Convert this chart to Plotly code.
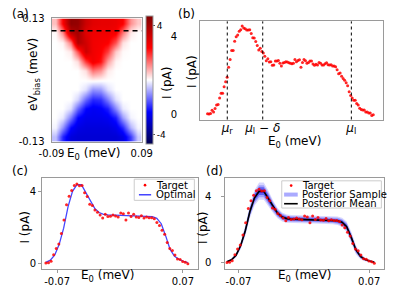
import numpy as np
import plotly.graph_objects as go

# ---------------- data ----------------
# Panel (a): current map I(E0, eV_bias), coarse readings (cell centres)
hm_E0 = [-0.0825, -0.0675, -0.0525, -0.0375, -0.0225, -0.0075,
         0.0075, 0.0225, 0.0375, 0.0525, 0.0675, 0.0825]
hm_V = [0.12, 0.10, 0.08, 0.06, 0.04, 0.02, 0.0, -0.02, -0.04, -0.06, -0.08, -0.10, -0.12]
hm_I = [
    [0.6, 2.4, 4.4, 4.3, 3.3, 2.9, 2.8, 2.8, 2.7, 2.4, 1.0, 0.5],
    [0.05, 1.1, 3.6, 4.0, 2.9, 2.65, 2.6, 2.6, 2.5, 1.3, 0.2, 0.0],
    [0.0, 0.1, 1.2, 3.8, 3.2, 2.6, 2.5, 2.4, 1.6, 0.3, 0.0, 0.0],
    [0.0, 0.0, 0.2, 1.6, 3.3, 2.6, 2.4, 1.8, 0.5, 0.05, 0.0, 0.0],
    [0.0, 0.0, 0.0, 0.3, 1.8, 2.6, 2.2, 0.9, 0.1, 0.0, 0.0, 0.0],
    [0.0, 0.0, 0.0, 0.0, 0.3, 1.3, 1.0, 0.2, 0.0, 0.0, 0.0, 0.0],
    [0.0, 0.0, 0.0, 0.0, 0.0, 0.05, 0.0, 0.0, 0.0, 0.0, 0.0, 0.0],
    [0.0, 0.0, 0.0, 0.0, -0.3, -1.0, -0.9, -0.3, 0.0, 0.0, 0.0, 0.0],
    [0.0, 0.0, 0.0, -0.4, -1.4, -2.0, -1.9, -1.2, -0.3, 0.0, 0.0, 0.0],
    [0.0, 0.0, -0.3, -1.4, -2.3, -2.5, -2.4, -2.1, -1.1, -0.2, 0.0, 0.0],
    [0.0, -0.2, -1.2, -2.3, -2.6, -2.6, -2.6, -2.5, -2.1, -0.9, -0.1, 0.0],
    [-0.1, -1.0, -2.3, -2.7, -2.8, -2.8, -2.8, -2.8, -2.6, -2.0, -0.7, -0.1],
    [-0.6, -2.0, -2.8, -2.9, -2.9, -2.9, -2.9, -2.9, -2.9, -2.7, -1.8, -0.5],
]
V_cut = 0.104

# Panels (b)-(d): target current along the cut
E0_target = np.linspace(-0.0825, 0.0755, 111)
I_target = [
    0.01, 0.00, 0.03, 0.20, 0.11, 0.28, 0.47, 0.49, 0.82, 1.07, 1.07, 1.40, 1.66, 1.89,
    2.40, 2.80, 3.26, 3.26, 3.73, 3.97, 4.05, 4.25, 4.33, 4.52, 4.41, 4.38, 4.31, 4.31,
    4.33, 4.13, 3.92, 3.90, 3.72, 3.52, 3.29, 3.37, 3.21, 3.13, 2.96, 2.73, 2.84, 2.67,
    2.68, 2.50, 2.52, 2.72, 2.72, 2.75, 2.60, 2.47, 2.62, 2.65, 2.68, 2.67, 2.63, 2.60,
    2.58, 2.60, 2.80, 2.68, 2.75, 2.78, 2.40, 2.65, 2.80, 2.73, 2.60, 2.65, 2.72, 2.72,
    2.57, 2.50, 2.55, 2.52, 2.65, 2.60, 2.52, 2.52, 2.58, 2.63, 2.53, 2.52, 2.53, 2.47,
    2.47, 2.43, 2.27, 2.07, 2.10, 1.94, 1.83, 1.73, 1.61, 1.45, 1.15, 0.95, 0.82, 0.71,
    0.71, 0.54, 0.46, 0.30, 0.23, 0.21, 0.21, 0.10, 0.10, 0.06, 0.05, -0.07, -0.03,
]
mu_vals = [-0.0637, -0.0299, 0.0546]
mu_labels = ["<i>μ</i><sub>r</sub>", "<i>μ</i><sub>l</sub> − <i>δ</i>", "<i>μ</i><sub>l</sub>"]

# smooth curves (fit / posterior)
E0_curve = np.linspace(-0.0825, 0.0755, 33)
I_optimal = [0.05, 0.17, 0.46, 1.05, 1.95, 3.15, 4.00, 4.38, 4.37, 3.93, 3.44, 3.05, 2.82,
             2.72, 2.69, 2.68, 2.68, 2.68, 2.67, 2.67, 2.66, 2.66, 2.65, 2.63, 2.59, 2.50,
             2.20, 1.52, 0.77, 0.38, 0.22, 0.11, 0.03]
I_post_mean = [0.05, 0.17, 0.45, 1.03, 1.92, 3.08, 3.90, 4.30, 4.30, 3.88, 3.38, 2.98, 2.75,
               2.65, 2.62, 2.61, 2.61, 2.61, 2.60, 2.60, 2.60, 2.59, 2.58, 2.56, 2.52, 2.43,
               2.16, 1.52, 0.78, 0.38, 0.19, 0.10, 0.03]
I_post_spread = [0.06, 0.08, 0.13, 0.22, 0.32, 0.40, 0.46, 0.52, 0.52, 0.46, 0.38, 0.31, 0.27,
                 0.25, 0.25, 0.25, 0.25, 0.25, 0.25, 0.25, 0.25, 0.25, 0.25, 0.25, 0.25, 0.27,
                 0.32, 0.34, 0.27, 0.17, 0.10, 0.07, 0.06]

# ---------------- layout helpers ----------------
W, H = 398, 292
FONT = "DejaVu Sans"
GRAY = "#9a9a9a"


def fx(p):
    return p / W


def fy(p):
    return 1 - p / H


seismic = [[0.0, "rgb(0,0,77)"], [0.25, "rgb(0,0,255)"], [0.5, "rgb(255,255,255)"],
           [0.75, "rgb(255,0,0)"], [1.0, "rgb(128,0,0)"]]

fig = go.Figure()

# (a) heatmap
fig.add_trace(go.Heatmap(
    x=hm_E0, y=hm_V, z=hm_I, zsmooth="best", colorscale=seismic, zmin=-4.7, zmax=4.7,
    xaxis="x", yaxis="y",
    colorbar=dict(x=fx(142), xanchor="left", xpad=0, ypad=0, thickness=7,
                  lenmode="pixels", len=128, y=fy(78), yanchor="middle",
                  outlinecolor=GRAY, outlinewidth=1,
                  tickvals=[-4, 4], ticktext=["-4", "4"], ticks="outside", ticklen=2,
                  tickcolor="#555", tickfont=dict(size=9, family=FONT, color="black")),
))

# (b) target scatter
fig.add_trace(go.Scatter(x=E0_target, y=I_target, mode="markers", xaxis="x2", yaxis="y2",
                         marker=dict(size=3, color="rgba(255,0,0,0.85)"), showlegend=False))

# (c) target + optimal
fig.add_trace(go.Scatter(x=E0_curve, y=I_optimal, mode="lines", xaxis="x3", yaxis="y3",
                         line=dict(color="rgb(70,70,255)", width=1.3), showlegend=False))
fig.add_trace(go.Scatter(x=E0_target[::2], y=I_target[::2], mode="markers", xaxis="x3", yaxis="y3",
                         marker=dict(size=3, color="rgba(255,0,0,0.85)"), showlegend=False))

# (d) posterior band, mean, target
mean = np.array(I_post_mean)
spread = np.array(I_post_spread)
for k, col in [(1.0, "rgba(120,120,255,0.30)"), (0.7, "rgba(80,80,245,0.40)"),
               (0.45, "rgba(40,40,235,0.55)"), (0.2, "rgba(20,20,220,0.6)")]:
    up = mean + k * spread
    lo = mean - k * spread
    fig.add_trace(go.Scatter(x=np.concatenate([E0_curve, E0_curve[::-1]]),
                             y=np.concatenate([up, lo[::-1]]), fill="toself",
                             fillcolor=col, line=dict(width=0), mode="lines",
                             xaxis="x4", yaxis="y4", showlegend=False, hoverinfo="skip"))
fig.add_trace(go.Scatter(x=E0_curve, y=I_post_mean, mode="lines", xaxis="x4", yaxis="y4",
                         line=dict(color="black", width=1.6), showlegend=False))
fig.add_trace(go.Scatter(x=E0_target[::2], y=I_target[::2], mode="markers", xaxis="x4", yaxis="y4",
                         marker=dict(size=3, color="rgba(255,0,0,0.85)"), showlegend=False))

axbase = dict(showline=True, mirror=True, linecolor=GRAY, linewidth=1, showgrid=False,
              zeroline=False, tickfont=dict(size=10, family=FONT, color="black"))

layout = dict(
    width=W, height=H, margin=dict(l=0, r=0, t=0, b=0),
    paper_bgcolor="white", plot_bgcolor="white", showlegend=False,
    font=dict(family=FONT, color="black"),
    xaxis=dict(axbase, domain=[fx(41), fx(137)], anchor="y", range=[-0.09, 0.09],
               tickvals=[-0.09, 0.09], ticktext=["-0.09", "0.09"], ticks="", ticklabelstandoff=2),
    yaxis=dict(axbase, domain=[fy(142), fy(14)], anchor="x", range=[-0.13, 0.13],
               tickvals=[-0.13, 0.13], ticktext=["-0.13", "0.13"], ticks="", ticklabelstandoff=4),
    xaxis2=dict(axbase, domain=[fx(199), fx(394)], anchor="y2", range=[-0.0897, 0.0850],
                tickvals=mu_vals, ticktext=mu_labels, ticks="", ticklabelstandoff=-3,
                tickfont=dict(size=12, family=FONT, color="black")),
    yaxis2=dict(axbase, domain=[fy(119), fy(17)], anchor="x2", range=[-0.28, 4.755],
                tickvals=[0, 4], ticktext=["0", "4"], ticks="", ticklabelstandoff=20),
    xaxis3=dict(axbase, domain=[fx(31), fx(196.5)], anchor="y3", range=[-0.0867, 0.0864],
                tickvals=[-0.07, 0.07], ticktext=["-0.07", "0.07"], ticks="outside",
                ticklen=3, tickcolor=GRAY),
    yaxis3=dict(axbase, domain=[fy(274.3), fy(179.3)], anchor="x3", range=[-0.32, 4.77],
                tickvals=[0, 4], ticktext=["0", "4"], ticks="outside", ticklen=3, tickcolor=GRAY),
    xaxis4=dict(axbase, domain=[fx(226), fx(394.7)], anchor="y4", range=[-0.0841, 0.0858],
                tickvals=[-0.07, 0.07], ticktext=["-0.07", "0.07"], ticks="outside",
                ticklen=3, tickcolor=GRAY),
    yaxis4=dict(axbase, domain=[fy(274.5), fy(179.3)], anchor="x4", range=[-0.39, 5.12],
                tickvals=[0, 4], ticktext=["0", "4"], ticks="outside", ticklen=3, tickcolor=GRAY,
                ticklabelstandoff=8),
)
fig.update_layout(**layout)

shapes = []
# dashed cut line on heatmap
shapes.append(dict(type="line", xref="x domain", yref="y", x0=0, x1=1, y0=V_cut, y1=V_cut,
                   line=dict(color="black", width=1.5, dash="5px,4px")))
# mu lines in (b)
for m in mu_vals:
    shapes.append(dict(type="line", xref="x2", yref="y2 domain", x0=m, x1=m, y0=0, y1=1,
                       line=dict(color="black", width=1, dash="dot")))

annotations = []


def txt(text, x, y, size=12, angle=0, xanchor="center"):
    annotations.append(dict(text=text, x=fx(x), y=fy(y), xref="paper", yref="paper",
                            showarrow=False, textangle=angle, xanchor=xanchor, yanchor="middle",
                            font=dict(size=size, family=FONT, color="black")))


# panel labels
txt("(a)", 8.5, 9, 12)
txt("(b)", 185, 9, 12)
txt("(c)", 7.5, 173, 12)
txt("(d)", 214, 173, 12)
# axis titles
txt("eV<sub>bias</sub> (meV)", 23, 72, 12, -90)
txt("E<sub>0</sub> (meV)", 86, 155, 12)
txt("I (pA)", 164, 81, 12, -90)          # colour-bar title
txt("I (pA)", 191, 69, 12, -90)
txt("E<sub>0</sub> (meV)", 300, 142, 12)
txt("I (pA)", 13, 231, 12, -90)
txt("E<sub>0</sub> (meV)", 101, 282, 12)
txt("I (pA)", 203, 231, 12, -90)
txt("E<sub>0</sub> (meV)", 310, 282, 12)


# manual legends
def legend_box(x0, x1, y0, y1):
    shapes.append(dict(type="rect", xref="paper", yref="paper", x0=fx(x0), x1=fx(x1),
                       y0=fy(y1), y1=fy(y0), fillcolor="rgba(255,255,255,0.85)",
                       line=dict(color="#cccccc", width=1)))


def legend_dot(cx, cy):
    shapes.append(dict(type="circle", xref="paper", yref="paper", x0=fx(cx - 1.4), x1=fx(cx + 1.4),
                       y0=fy(cy + 1.4), y1=fy(cy - 1.4), fillcolor="red", line=dict(width=0)))


def legend_line(xa, xb, y, color, width):
    shapes.append(dict(type="line", xref="paper", yref="paper", x0=fx(xa), x1=fx(xb),
                       y0=fy(y), y1=fy(y), line=dict(color=color, width=width)))


legend_box(129, 193, 181, 203)
legend_dot(140.5, 187.2)
legend_line(134, 147, 197.2, "rgb(70,70,255)", 1.5)
txt("Target", 150, 187.2, 10, 0, "left")
txt("Optimal", 150, 197.2, 10, 0, "left")

legend_box(286, 392, 182.7, 211)
legend_dot(296, 187.6)
legend_line(288.5, 303, 197, "rgb(170,170,255)", 4)
legend_line(288.5, 303, 206.5, "black", 1.6)
txt("Target", 305, 187.6, 10, 0, "left")
txt("Posterior Sample", 305, 197, 10, 0, "left")
txt("Posterior Mean", 305, 206.5, 10, 0, "left")

fig.update_layout(shapes=shapes, annotations=annotations)
fig.write_html("out.html", config={"displayModeBar": False},
               post_script="document.body.style.margin='0px';")
